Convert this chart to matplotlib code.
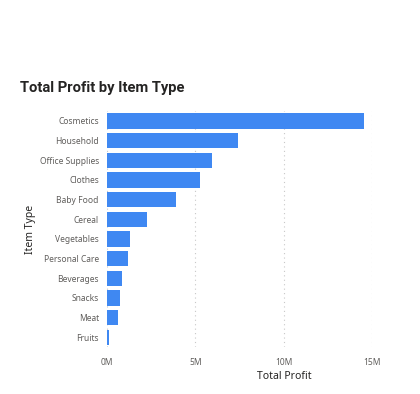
import matplotlib.pyplot as plt
from matplotlib.ticker import FuncFormatter

plt.rcParams['font.family'] = ['Noto Sans', 'DejaVu Sans']

items = ['Cosmetics', 'Household', 'Office Supplies', 'Clothes', 'Baby Food', 'Cereal',
         'Vegetables', 'Personal Care', 'Beverages', 'Snacks', 'Meat', 'Fruits']
profit_m = [14.56, 7.40, 5.93, 5.23, 3.89, 2.28, 1.27, 1.21, 0.87, 0.74, 0.61, 0.10]
profit = [v * 1e6 for v in profit_m]
x_ticks = [0, 5e6, 10e6, 15e6]

fig = plt.figure(figsize=(4.2, 3.94), dpi=100)
ax = fig.add_axes([0.255, 0.119, 0.631, 0.599])

ax.barh(items, profit, height=0.78, color='#3F88F2', zorder=3)
ax.set_ylim(len(items) - 0.5, -0.5)
ax.set_xlim(0, 15e6)
ax.set_xticks(x_ticks)
ax.xaxis.set_major_formatter(FuncFormatter(lambda v, p: f'{v / 1e6:.0f}M'))
ax.grid(axis='x', linestyle=(0, (1, 3)), color='#C8C8C8', linewidth=0.8, zorder=0)

for s in ax.spines.values():
    s.set_visible(False)
ax.tick_params(length=0, labelsize=6.1, labelcolor='#605E5C')
ax.tick_params(axis='y', pad=6)
ax.tick_params(axis='x', pad=8)

ax.set_xlabel('Total Profit', fontsize=7.5, color='#252423')
ax.xaxis.set_label_coords((284 - 107) / 265, -0.10)
ax.set_ylabel('Item Type', fontsize=7.5, color='#252423')
ax.yaxis.set_label_coords(-0.27, 0.5)

fig.text(20 / 420, 1 - 88 / 394, 'Total Profit by Item Type', fontsize=10.6,
         fontweight='bold', color='#252423', va='center', ha='left',
         family=['Roboto', 'DejaVu Sans'])

fig.savefig('out.png', dpi=100, facecolor='white')
